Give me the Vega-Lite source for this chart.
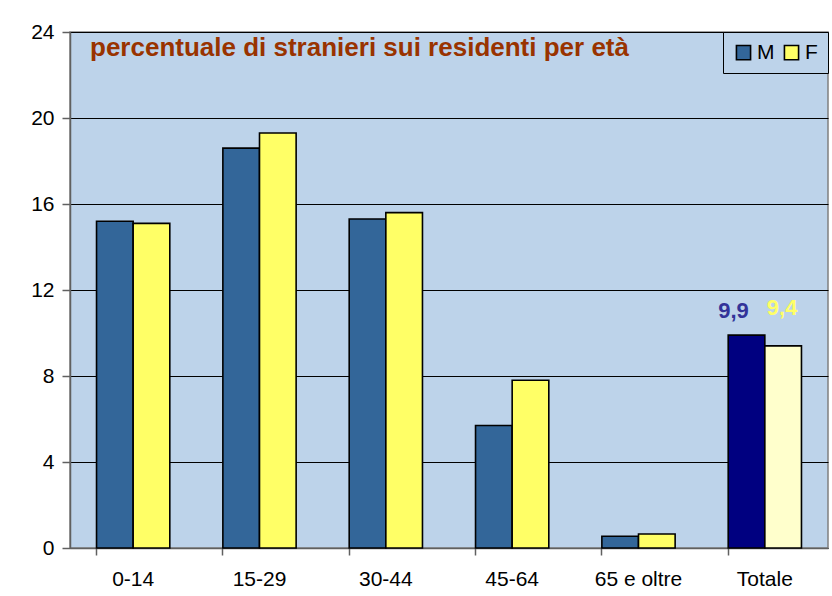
{
  "$schema": "https://vega.github.io/schema/vega-lite/v6.json",
  "width": 758,
  "height": 516,
  "autosize": {"type": "none"},
  "padding": {"left": 70, "top": 32, "right": 4, "bottom": 48},
  "background": "white",
  "config": {
    "font": "Liberation Sans",
    "view": {"fill": "#BDD3EA", "stroke": "#808080", "strokeWidth": 1.5},
    "locale": {"number": {"decimal": ",", "thousands": ".", "grouping": [3], "currency": ["€", ""]}}
  },
  "title": {
    "text": "percentuale di stranieri sui residenti per età",
    "anchor": "start",
    "frame": "group",
    "orient": "top",
    "offset": -30,
    "dx": 20,
    "dy": 31,
    "baseline": "alphabetic",
    "font": "Liberation Sans",
    "fontSize": 26,
    "fontWeight": "bold",
    "color": "#993300"
  },
  "data": {
    "values": [
      {"eta": "0-14", "sesso": "M", "valore": 15.2},
      {"eta": "0-14", "sesso": "F", "valore": 15.1},
      {"eta": "15-29", "sesso": "M", "valore": 18.6},
      {"eta": "15-29", "sesso": "F", "valore": 19.3},
      {"eta": "30-44", "sesso": "M", "valore": 15.3},
      {"eta": "30-44", "sesso": "F", "valore": 15.6},
      {"eta": "45-64", "sesso": "M", "valore": 5.7},
      {"eta": "45-64", "sesso": "F", "valore": 7.8},
      {"eta": "65 e oltre", "sesso": "M", "valore": 0.55},
      {"eta": "65 e oltre", "sesso": "F", "valore": 0.65},
      {"eta": "Totale", "sesso": "M", "valore": 9.9},
      {"eta": "Totale", "sesso": "F", "valore": 9.4}
    ]
  },
  "encoding": {
    "x": {
      "field": "eta",
      "type": "nominal",
      "sort": ["0-14", "15-29", "30-44", "45-64", "65 e oltre", "Totale"],
      "scale": {"paddingInner": 0.42, "paddingOuter": 0.21},
      "axis": {
        "title": null,
        "labelAngle": 0,
        "labelFontSize": 21,
        "labelColor": "black",
        "labelPadding": 13,
        "bandPosition": 0,
        "tickSize": 7,
        "tickColor": "#606060",
        "tickWidth": 1.5,
        "domainColor": "#606060",
        "domainWidth": 1.5,
        "grid": false
      }
    },
    "xOffset": {"field": "sesso", "type": "nominal", "sort": ["M", "F"]},
    "y": {
      "field": "valore",
      "type": "quantitative",
      "scale": {"domain": [0, 24], "nice": false},
      "axis": {
        "title": null,
        "values": [0, 4, 8, 12, 16, 20, 24],
        "labelFontSize": 21,
        "labelColor": "black",
        "labelPadding": 8,
        "tickSize": 8,
        "tickColor": "#606060",
        "tickWidth": 1.5,
        "domainColor": "#606060",
        "domainWidth": 1.5,
        "grid": true,
        "gridColor": "black",
        "gridWidth": 1,
        "gridOpacity": 1
      }
    }
  },
  "layer": [
    {
      "mark": {"type": "bar", "stroke": "black", "strokeWidth": 1.6},
      "encoding": {
        "color": {
          "field": "sesso",
          "type": "nominal",
          "sort": ["M", "F"],
          "scale": {"domain": ["M", "F"], "range": ["#336699", "#FFFF66"]},
          "condition": [
            {"test": "datum.eta === 'Totale' && datum.sesso === 'M'", "value": "#000080"},
            {"test": "datum.eta === 'Totale' && datum.sesso === 'F'", "value": "#FFFFCC"}
          ],
          "legend": {
            "title": null,
            "orient": "top-right",
            "offset": 0,
            "direction": "horizontal",
            "padding": 10,
            "fillColor": "#BDD3EA",
            "strokeColor": "black",
            "symbolType": "square",
            "symbolSize": 200,
            "symbolStrokeColor": "black",
            "symbolStrokeWidth": 1.6,
            "symbolOpacity": 1,
            "labelFontSize": 21,
            "labelColor": "black",
            "labelOffset": 3,
            "columnPadding": 6
          }
        }
      }
    },
    {
      "transform": [{"filter": "datum.eta === 'Totale' && datum.sesso === 'M'"}],
      "mark": {"type": "text", "baseline": "alphabetic", "align": "center", "dx": -13, "dy": -17, "fontSize": 22, "fontWeight": "bold", "color": "#333399"},
      "encoding": {"text": {"field": "valore", "type": "quantitative", "format": ".1f"}}
    },
    {
      "transform": [{"filter": "datum.eta === 'Totale' && datum.sesso === 'F'"}],
      "mark": {"type": "text", "baseline": "alphabetic", "align": "center", "dx": -1, "dy": -31, "fontSize": 22, "fontWeight": "bold", "color": "#FFFF66"},
      "encoding": {"text": {"field": "valore", "type": "quantitative", "format": ".1f"}}
    }
  ]
}
